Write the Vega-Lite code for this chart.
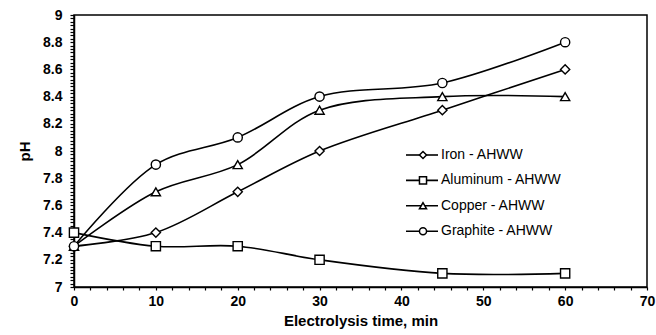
{
  "$schema": "https://vega.github.io/schema/vega-lite/v6.json",
  "width": 573,
  "height": 272,
  "autosize": "none",
  "padding": {"left": 74, "top": 15, "right": 9, "bottom": 48},
  "background": "white",
  "config": {
    "font": "Liberation Sans",
    "view": {"stroke": "black", "strokeWidth": 1.5},
    "axis": {
      "grid": false,
      "domainColor": "black",
      "domainWidth": 1.5,
      "tickColor": "black",
      "tickWidth": 1.2,
      "labelColor": "black",
      "labelFont": "Liberation Sans",
      "labelFontSize": 14,
      "labelFontWeight": "bold",
      "labelOverlap": false,
      "labelFlush": false,
      "titleColor": "black",
      "titleFont": "Liberation Sans",
      "titleFontSize": 15,
      "titleFontWeight": "bold"
    }
  },
  "data": {
    "values": [
      {"t": 0, "pH": 7.3, "series": "Iron - AHWW"},
      {"t": 10, "pH": 7.4, "series": "Iron - AHWW"},
      {"t": 20, "pH": 7.7, "series": "Iron - AHWW"},
      {"t": 30, "pH": 8.0, "series": "Iron - AHWW"},
      {"t": 45, "pH": 8.3, "series": "Iron - AHWW"},
      {"t": 60, "pH": 8.6, "series": "Iron - AHWW"},
      {"t": 0, "pH": 7.4, "series": "Aluminum - AHWW"},
      {"t": 10, "pH": 7.3, "series": "Aluminum - AHWW"},
      {"t": 20, "pH": 7.3, "series": "Aluminum - AHWW"},
      {"t": 30, "pH": 7.2, "series": "Aluminum - AHWW"},
      {"t": 45, "pH": 7.1, "series": "Aluminum - AHWW"},
      {"t": 60, "pH": 7.1, "series": "Aluminum - AHWW"},
      {"t": 0, "pH": 7.3, "series": "Copper - AHWW"},
      {"t": 10, "pH": 7.7, "series": "Copper - AHWW"},
      {"t": 20, "pH": 7.9, "series": "Copper - AHWW"},
      {"t": 30, "pH": 8.3, "series": "Copper - AHWW"},
      {"t": 45, "pH": 8.4, "series": "Copper - AHWW"},
      {"t": 60, "pH": 8.4, "series": "Copper - AHWW"},
      {"t": 0, "pH": 7.3, "series": "Graphite - AHWW"},
      {"t": 10, "pH": 7.9, "series": "Graphite - AHWW"},
      {"t": 20, "pH": 8.1, "series": "Graphite - AHWW"},
      {"t": 30, "pH": 8.4, "series": "Graphite - AHWW"},
      {"t": 45, "pH": 8.5, "series": "Graphite - AHWW"},
      {"t": 60, "pH": 8.8, "series": "Graphite - AHWW"}
    ]
  },
  "encoding": {
    "x": {
      "field": "t",
      "type": "quantitative",
      "scale": {"domain": [0, 70], "nice": false, "zero": false},
      "axis": {
        "title": "Electrolysis time, min",
        "values": [0, 2, 4, 6, 8, 10, 12, 14, 16, 18, 20, 22, 24, 26, 28, 30, 32, 34, 36, 38, 40, 42, 44, 46, 48, 50, 52, 54, 56, 58, 60, 62, 64, 66, 68, 70],
        "labelExpr": "datum.value % 10 === 0 ? format(datum.value, 'd') : ''",
        "tickSize": 3,
        "labelPadding": 4,
        "titlePadding": 5,
        "encode": {
          "ticks": {
            "y": {"value": -3},
            "y2": {"condition": {"test": "datum.value % 10 === 0", "value": 3}, "value": 0}
          }
        }
      }
    },
    "y": {
      "field": "pH",
      "type": "quantitative",
      "scale": {"domain": [7, 9], "nice": false, "zero": false},
      "axis": {
        "title": "pH",
        "values": [7, 7.025, 7.05, 7.075, 7.1, 7.125, 7.15, 7.175, 7.2, 7.225, 7.25, 7.275, 7.3, 7.325, 7.35, 7.375, 7.4, 7.425, 7.45, 7.475, 7.5, 7.525, 7.55, 7.575, 7.6, 7.625, 7.65, 7.675, 7.7, 7.725, 7.75, 7.775, 7.8, 7.825, 7.85, 7.875, 7.9, 7.925, 7.95, 7.975, 8, 8.025, 8.05, 8.075, 8.1, 8.125, 8.15, 8.175, 8.2, 8.225, 8.25, 8.275, 8.3, 8.325, 8.35, 8.375, 8.4, 8.425, 8.45, 8.475, 8.5, 8.525, 8.55, 8.575, 8.6, 8.625, 8.65, 8.675, 8.7, 8.725, 8.75, 8.775, 8.8, 8.825, 8.85, 8.875, 8.9, 8.925, 8.95, 8.975, 9],
        "labelExpr": "abs(datum.value * 5 - round(datum.value * 5)) < 0.000001 ? format(datum.value, '.1~f') : ''",
        "tickSize": 4,
        "labelPadding": 8,
        "titlePadding": 10,
        "encode": {
          "ticks": {
            "x": {"value": 3},
            "x2": {"condition": {"test": "abs(datum.value * 5 - round(datum.value * 5)) < 0.000001", "value": -4}, "value": 0}
          }
        }
      }
    }
  },
  "layer": [
    {
      "mark": {"type": "line", "interpolate": "catmull-rom", "strokeWidth": 1.6},
      "encoding": {
        "color": {
          "field": "series",
          "type": "nominal",
          "scale": {
            "domain": ["Iron - AHWW", "Aluminum - AHWW", "Copper - AHWW", "Graphite - AHWW"],
            "range": ["black", "black", "black", "black"]
          },
          "legend": {
            "title": null,
            "orient": "none",
            "legendX": 331,
            "legendY": 133,
            "padding": 0,
            "symbolType": "stroke",
            "symbolSize": 1024,
            "symbolStrokeWidth": 1.6,
            "labelExpr": "''",
            "labelFontSize": 14,
            "labelOffset": 2,
            "clipHeight": 14,
            "rowPadding": 11.4
          }
        }
      }
    },
    {
      "mark": {"type": "point", "filled": true, "fill": "white", "stroke": "black", "strokeWidth": 1.4, "opacity": 1},
      "encoding": {
        "shape": {
          "field": "series",
          "type": "nominal",
          "scale": {
            "domain": ["Iron - AHWW", "Aluminum - AHWW", "Copper - AHWW", "Graphite - AHWW"],
            "range": ["diamond", "square", "triangle-up", "circle"]
          },
          "legend": {
            "title": null,
            "orient": "none",
            "legendX": 342,
            "legendY": 133,
            "padding": 0,
            "symbolSize": 50,
            "labelFont": "Liberation Sans",
            "labelFontSize": 14,
            "labelColor": "black",
            "labelOffset": 11,
            "clipHeight": 14,
            "rowPadding": 11.4,
            "encode": {
              "symbols": {
                "stroke": {"value": "black"},
                "strokeWidth": {"value": 1.3},
                "fill": {"value": "white"}
              }
            }
          }
        },
        "size": {
          "field": "series",
          "type": "nominal",
          "scale": {
            "domain": ["Iron - AHWW", "Aluminum - AHWW", "Copper - AHWW", "Graphite - AHWW"],
            "range": [85, 85, 75, 75]
          },
          "legend": null
        }
      }
    }
  ],
  "resolve": {"legend": {"color": "independent", "shape": "independent"}}
}
